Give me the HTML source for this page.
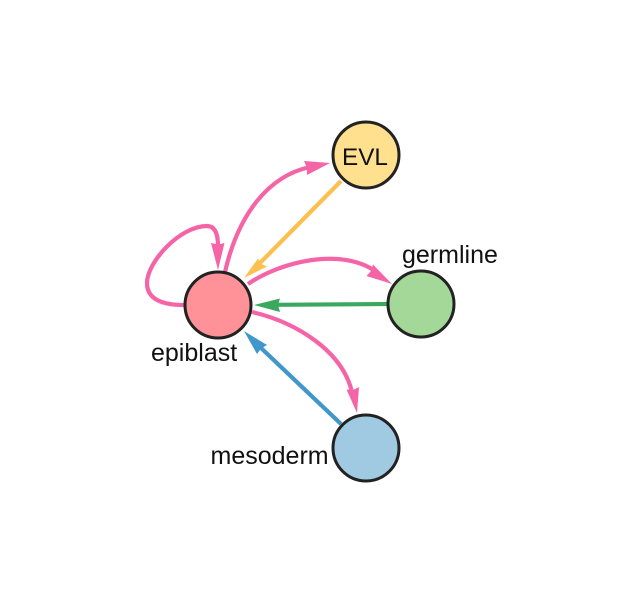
<!DOCTYPE html>
<html>
<head>
<meta charset="utf-8">
<style>
html,body{margin:0;padding:0;background:#fff;width:621px;height:598px;overflow:hidden}
svg{display:block}
text{font-family:"Liberation Sans",sans-serif;font-size:25px;fill:#111}
.e{fill:none;stroke-width:4.2;stroke-linecap:butt}
.n{stroke:#222;stroke-width:3}
</style>
</head>
<body>
<svg width="621" height="598" viewBox="0 0 621 598" xmlns="http://www.w3.org/2000/svg">
<!-- pink self loop -->
<path class="e" stroke="#f564a6" d="M184 305 C160 305 147 298 147 283 C147 262 180 226 207 226 C215 226 218 234 218 246"/>
<polygon fill="#f564a6" points="211,243 218,244.500 224.500,243 218,270"/>
<!-- epiblast to EVL -->
<path class="e" stroke="#f564a6" d="M225 272 C238 215 268 176 310 167"/>
<polygon fill="#f564a6" points="304,161 307,168 307,175 330,163"/>
<!-- EVL to epiblast -->
<path class="e" stroke="#fbc04f" d="M341 181 L260 263"/>
<polygon fill="#fbc04f" points="244,278 258,258.500 261.500,264 267,266.500"/>
<!-- epiblast to germline -->
<path class="e" stroke="#f564a6" d="M248 284 C280 262 340 247 375 271"/>
<polygon fill="#f564a6" points="373,264.500 371,271 366.500,276 392,284"/>
<!-- germline to epiblast -->
<path class="e" stroke="#3aa95f" d="M388 304 L276 304.800"/>
<polygon fill="#3aa95f" points="254,305 280,298.500 278,305 280,312"/>
<!-- epiblast to mesoderm -->
<path class="e" stroke="#f564a6" d="M252 312 C295 322 342 350 352 392"/>
<polygon fill="#f564a6" points="346.500,389.500 353,390 359,387 357,413"/>
<!-- mesoderm to epiblast -->
<path class="e" stroke="#3f97cb" d="M341 424 L260 347"/>
<polygon fill="#3f97cb" points="244,331 267,345 261,348.500 257,354"/>
<!-- nodes -->
<circle class="n" cx="366" cy="155" r="33" fill="#ffe08e"/>
<circle class="n" cx="218" cy="305" r="33" fill="#ff9198"/>
<circle class="n" cx="421" cy="304" r="33" fill="#a3d898"/>
<circle class="n" cx="366" cy="448" r="33" fill="#a0cae2"/>
<!-- labels -->
<text x="342" y="165" style="font-size:24.300px">EVL</text>
<text x="402" y="263">germline</text>
<text x="151" y="361">epiblast</text>
<text x="210.500" y="464">mesoderm</text>
</svg>
</body>
</html>
